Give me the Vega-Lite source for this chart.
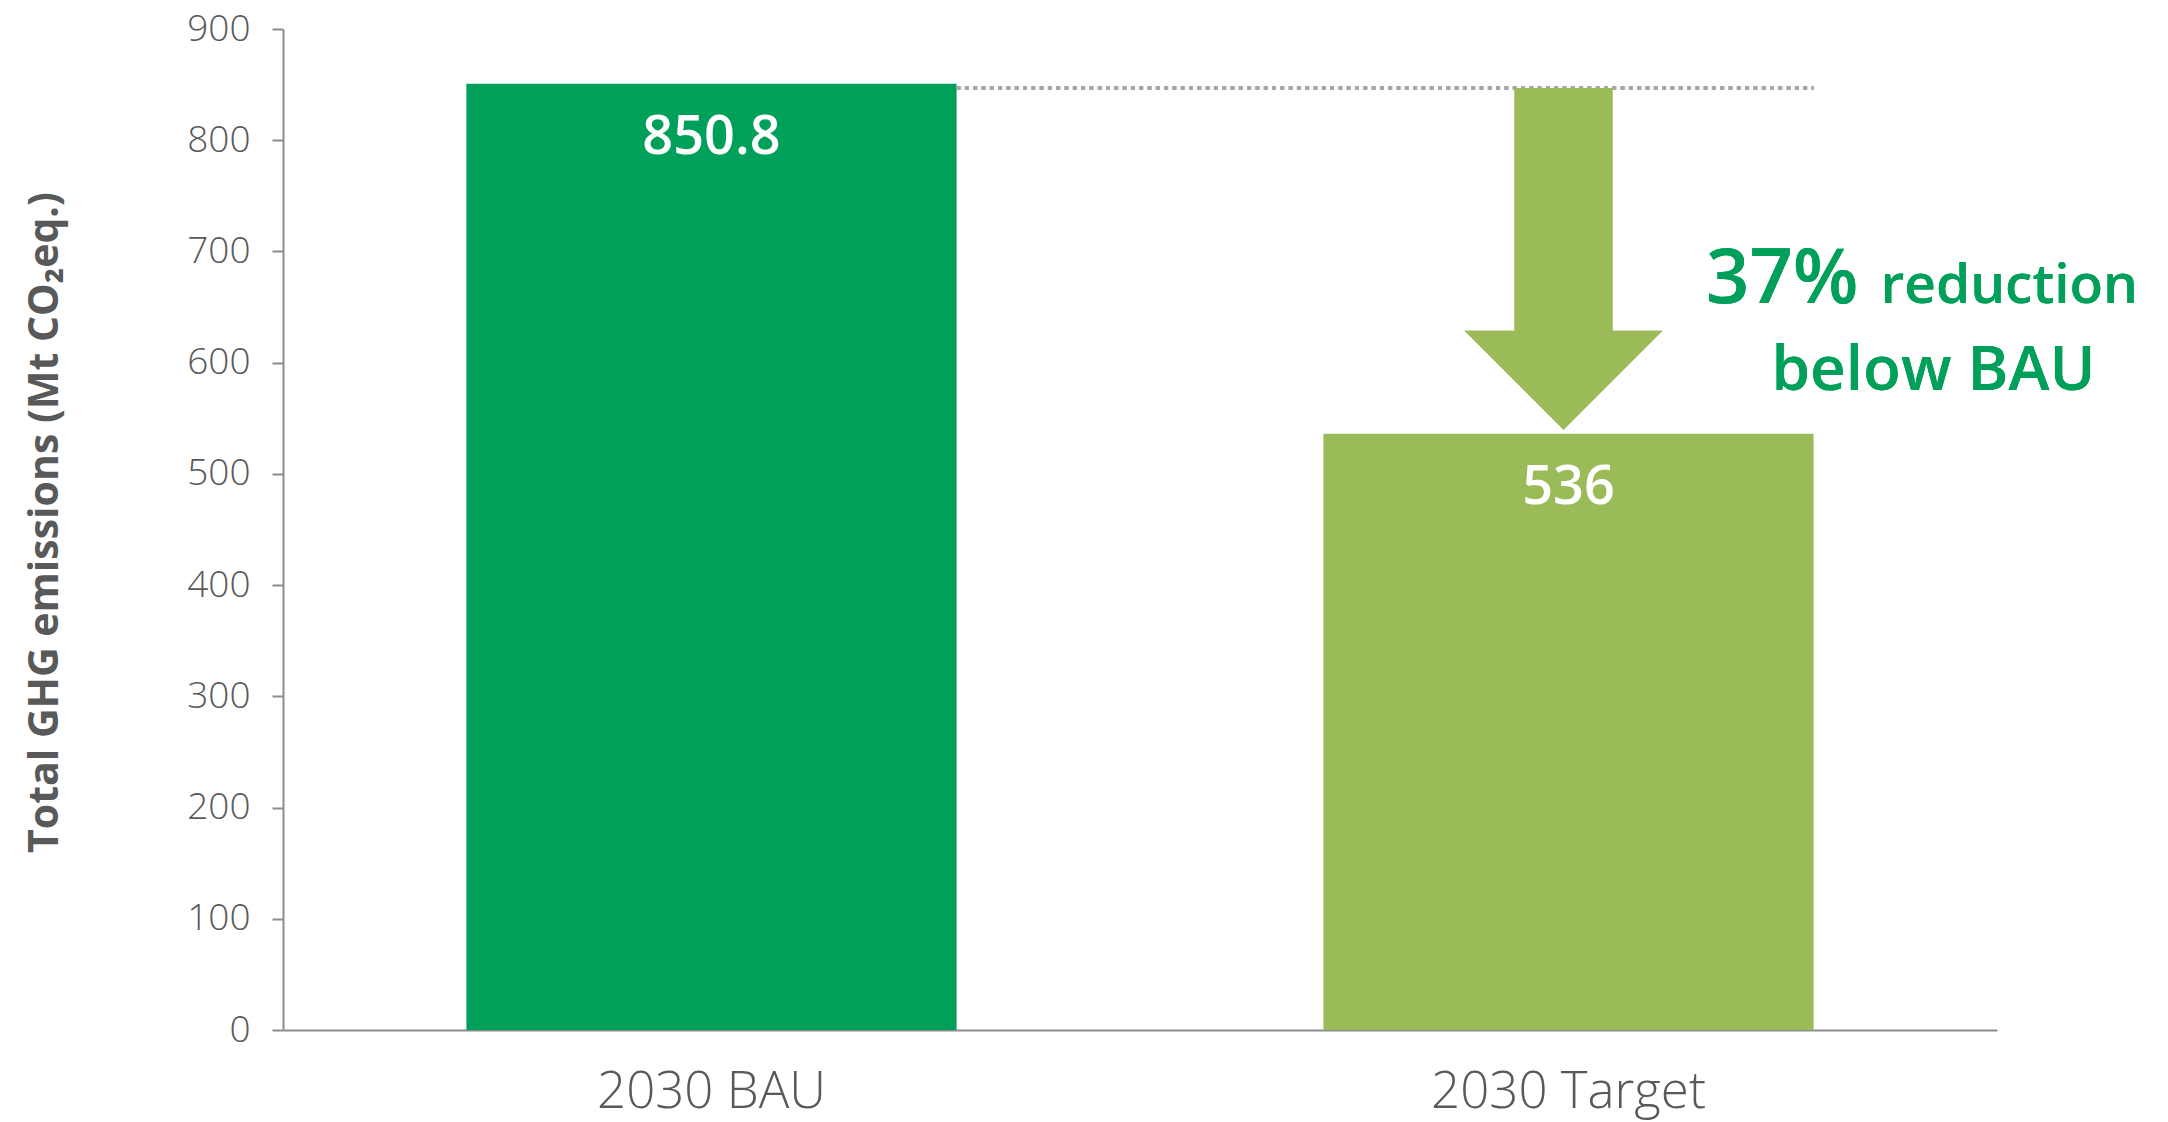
{
  "$schema": "https://vega.github.io/schema/vega-lite/v6.json",
  "width": 1714,
  "height": 1001,
  "autosize": {"type": "none"},
  "padding": {"left": 283, "top": 29, "right": 171, "bottom": 92},
  "background": "white",
  "config": {"view": {"stroke": null}, "font": "Open Sans"},
  "data": {"values": [
    {"scenario": "2030 BAU", "emissions": 850.8},
    {"scenario": "2030 Target", "emissions": 536}
  ]},
  "encoding": {
    "x": {
      "field": "scenario", "type": "nominal", "sort": null,
      "scale": {"paddingInner": 0.428, "paddingOuter": 0.214},
      "axis": {
        "title": null, "labelAngle": 0, "labelFont": "Open Sans", "labelFontWeight": 300,
        "labelFontSize": 51, "labelColor": "#595959", "ticks": false, "labelPadding": 77,
        "labelBaseline": "alphabetic", "labelLimit": 0, "domainColor": "#8c8c8c", "domainWidth": 2
      }
    }
  },
  "layer": [
    {
      "mark": {"type": "bar"},
      "encoding": {
        "y": {
          "field": "emissions", "type": "quantitative",
          "scale": {"domain": [0, 900], "nice": false},
          "axis": {
            "values": [0, 100, 200, 300, 400, 500, 600, 700, 800, 900],
            "grid": false, "tickSize": 11, "tickWidth": 2, "tickColor": "#8c8c8c",
            "domainColor": "#8c8c8c", "domainWidth": 2,
            "labelFont": "Open Sans", "labelFontSize": 37, "labelFontWeight": 300,
            "labelColor": "#595959", "labelPadding": 22,
            "title": "Total GHG emissions (Mt CO₂eq.)",
            "titleFont": "Open Sans", "titleFontSize": 41, "titleFontWeight": 700,
            "titleColor": "#595959", "titleX": -238, "titleY": 493, "titleBaseline": "middle",
            "titleLimit": 0
          }
        },
        "color": {
          "field": "scenario", "type": "nominal",
          "scale": {"domain": ["2030 BAU", "2030 Target"], "range": ["#00A05A", "#9BBB59"]},
          "legend": null
        }
      }
    },
    {
      "mark": {"type": "text", "dy": 70, "baseline": "alphabetic", "align": "center",
               "fontSize": 54, "fontWeight": 600, "color": "white", "font": "Open Sans"},
      "encoding": {
        "y": {"field": "emissions", "type": "quantitative"},
        "text": {"field": "emissions", "type": "quantitative", "format": "~g"}
      }
    },
    {
      "mark": {"type": "rule", "strokeDash": [4, 4.3], "strokeWidth": 4, "color": "#A6A6A6", "strokeCap": "butt"},
      "encoding": {
        "x": {"datum": "2030 BAU", "bandPosition": 1},
        "x2": {"datum": "2030 Target", "bandPosition": 1},
        "y": {"datum": 847}
      }
    },
    {
      "mark": {"type": "bar", "width": 98, "xOffset": -5, "color": "#9BBB59"},
      "encoding": {
        "x": {"datum": "2030 Target"},
        "y": {"datum": 847},
        "y2": {"datum": 628}
      }
    },
    {
      "mark": {"type": "point", "shape": "M-1,-0.5L1,-0.5L0,0.5Z", "size": 39204, "filled": true,
               "opacity": 1, "color": "#9BBB59", "xOffset": -5, "strokeWidth": 0},
      "encoding": {
        "x": {"datum": "2030 Target"},
        "y": {"datum": 584.2}
      }
    },
    {
      "mark": {"type": "text", "align": "right", "baseline": "alphabetic", "dx": 290,
               "fontSize": 76, "fontWeight": 600, "color": "#00A05A", "font": "Open Sans"},
      "encoding": {
        "x": {"datum": "2030 Target"},
        "y": {"datum": 653.4},
        "text": {"value": "37%"}
      }
    },
    {
      "mark": {"type": "text", "align": "left", "baseline": "alphabetic", "dx": 312,
               "fontSize": 55, "fontWeight": 600, "color": "#00A05A", "font": "Open Sans"},
      "encoding": {
        "x": {"datum": "2030 Target"},
        "y": {"datum": 653.4},
        "text": {"value": "reduction"}
      }
    },
    {
      "mark": {"type": "text", "align": "center", "baseline": "alphabetic", "dx": 365,
               "fontSize": 62, "fontWeight": 600, "color": "#00A05A", "font": "Open Sans"},
      "encoding": {
        "x": {"datum": "2030 Target"},
        "y": {"datum": 575.2},
        "text": {"value": "below BAU"}
      }
    }
  ]
}
